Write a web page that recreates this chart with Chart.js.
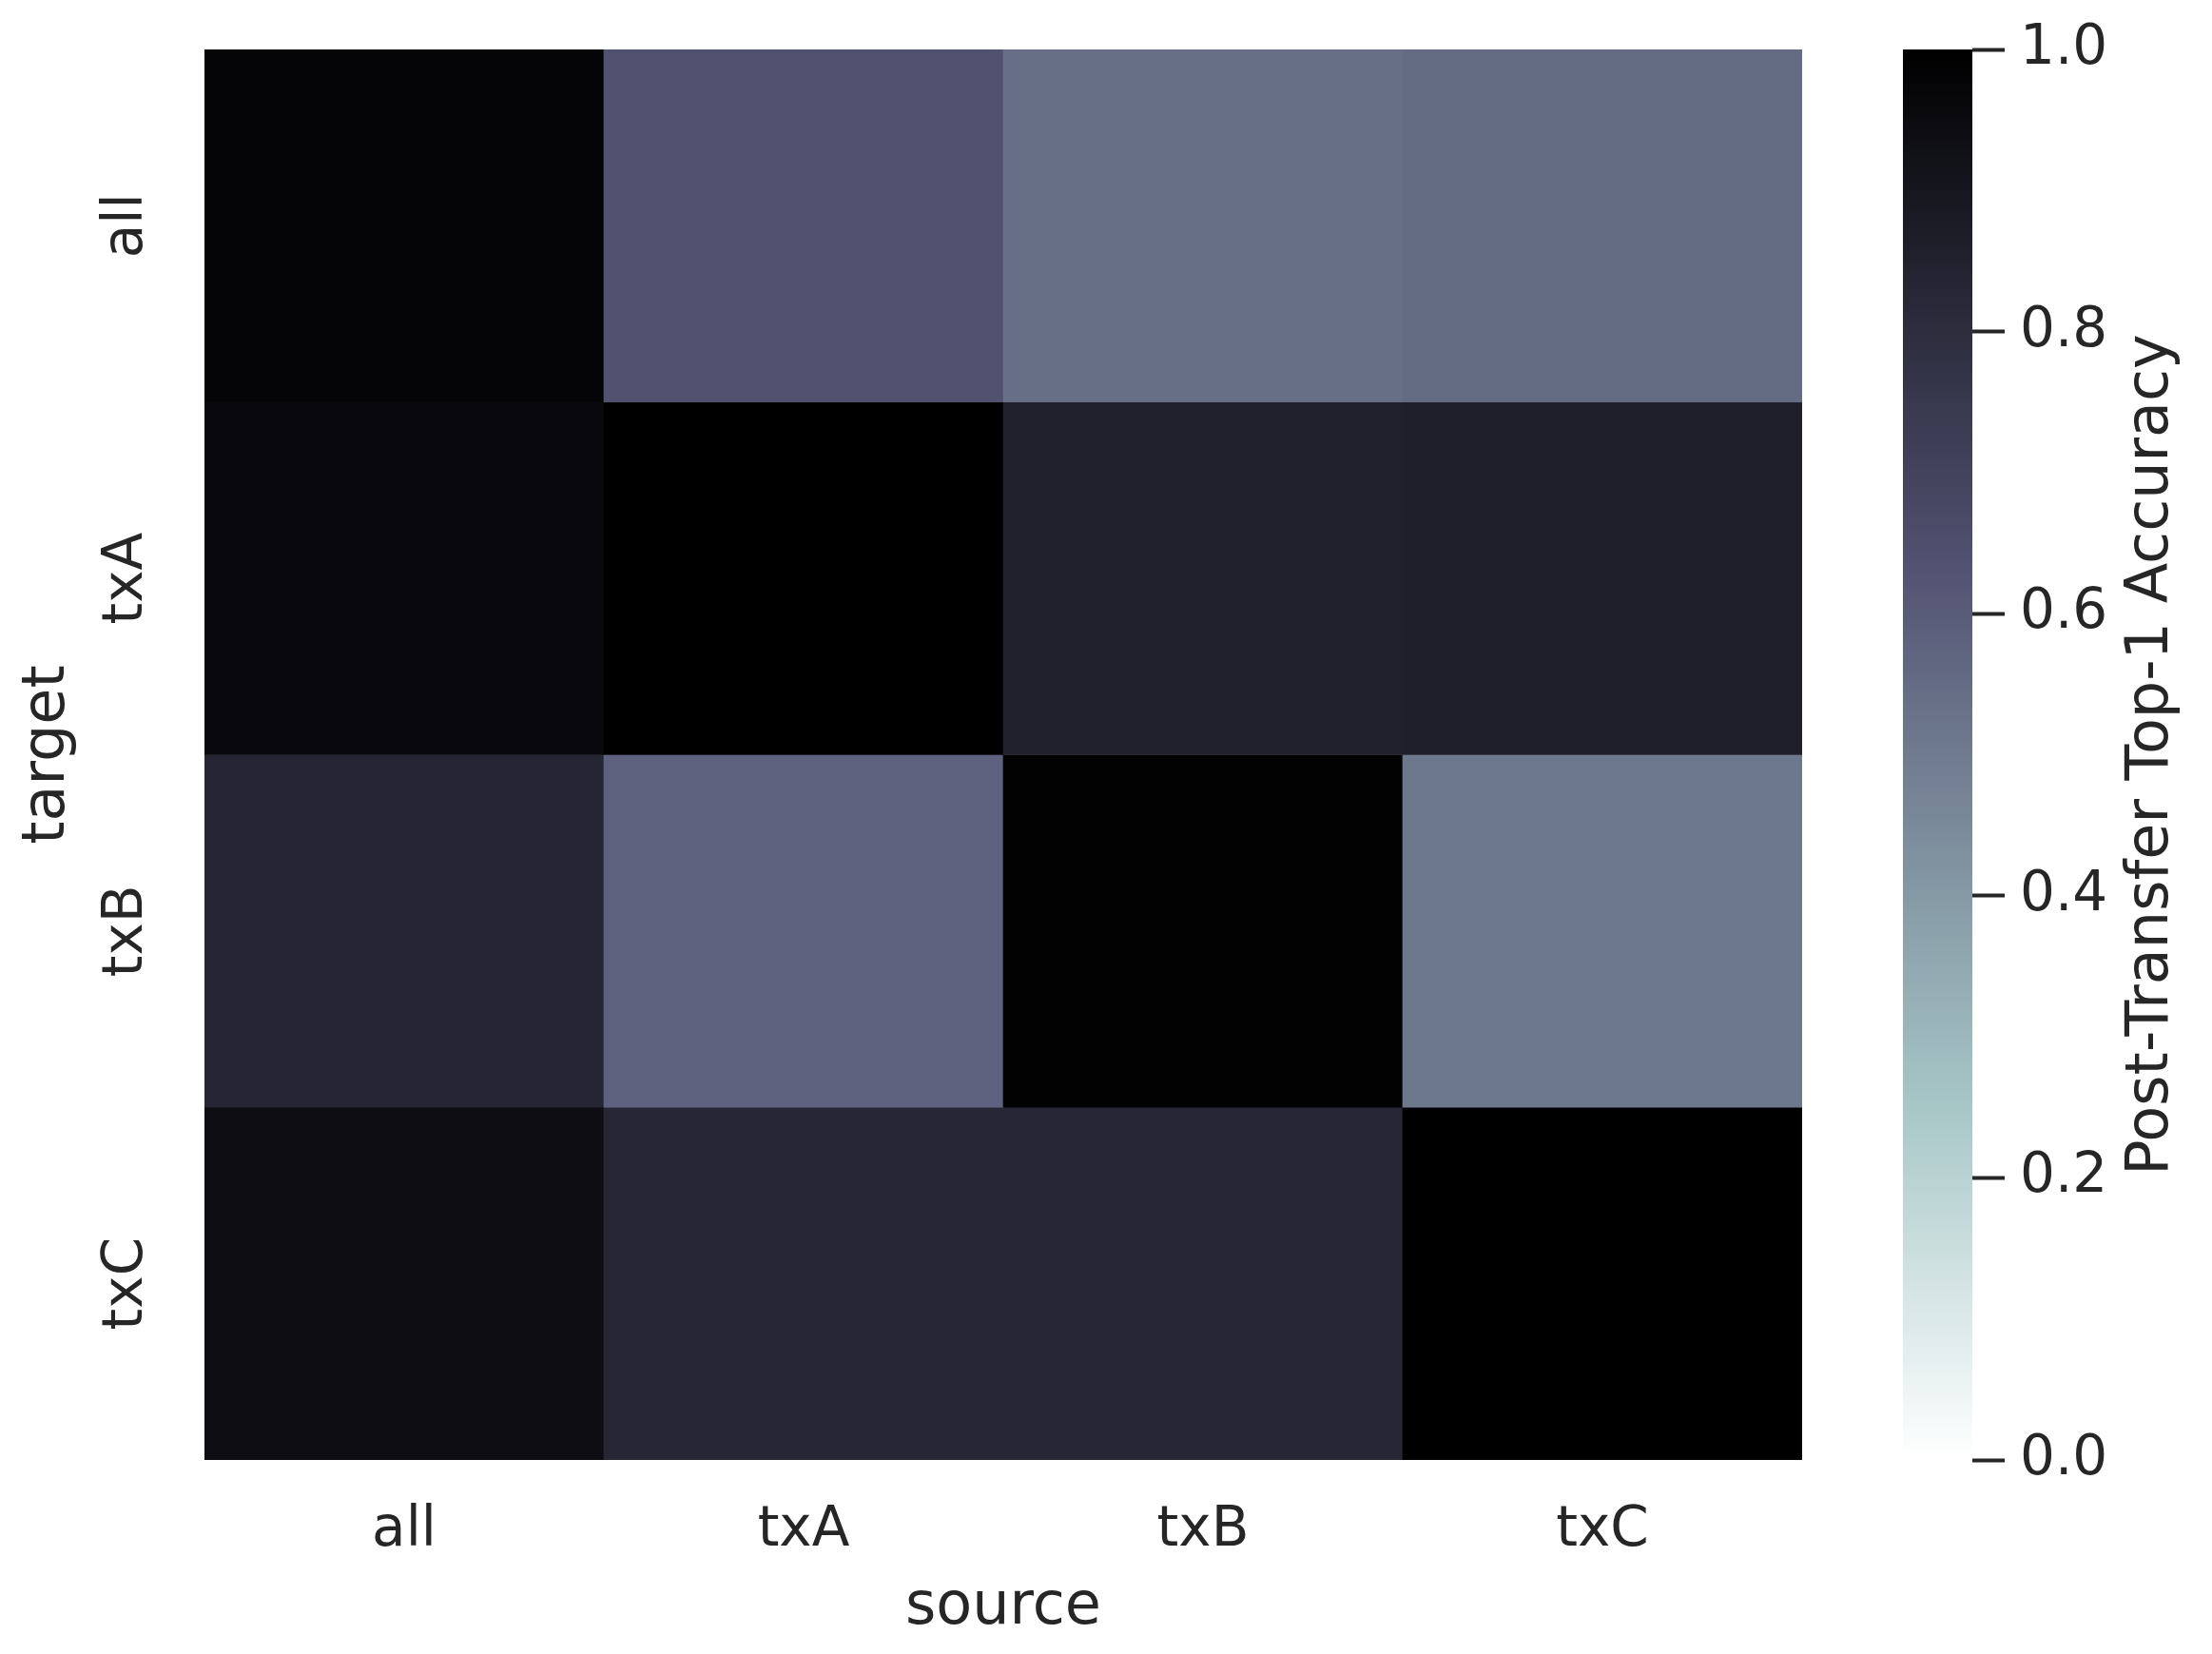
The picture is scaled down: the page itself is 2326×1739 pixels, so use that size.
<!DOCTYPE html>
<html lang="en">
<head>
  <meta charset="UTF-8" />
  <title>Post-Transfer Top-1 Accuracy</title>
  <script src="https://cdn.jsdelivr.net/npm/chart.js"></script>
  <style>
    body { margin: 0; background: #fff; }
    #wrap { position: relative; width: 2326px; height: 1739px; }
    canvas { position: absolute; top: 0; }
    #heat { left: 0; }
    #cbar { left: 1960px; }
  </style>
</head>
<body>
<div id="wrap">
  <canvas id="heat" width="1960" height="1739"></canvas>
  <canvas id="cbar" width="366" height="1739"></canvas>
</div>

<script>
  // categories
  const sources = ['all', 'txA', 'txB', 'txC'];
  const targets = ['all', 'txA', 'txB', 'txC'];

  // accuracy per target row (columns follow sources)
  const accAll = [0.978, 0.638, 0.540, 0.550];
  const accTxA = [0.958, 1.000, 0.858, 0.861];
  const accTxB = [0.836, 0.580, 0.990, 0.510];
  const accTxC = [0.940, 0.828, 0.828, 1.000];
  const rows = [accAll, accTxA, accTxB, accTxC];

  const cbarTicks = [0, 0.2, 0.4, 0.6, 0.8, 1.0];
  const xTitle = 'source';
  const yTitle = 'target';
  const cbarLabel = 'Post-Transfer Top-1 Accuracy';

  const FONT = '"DejaVu Sans", sans-serif';
  const TEXT = '#262626';

  // matplotlib "bone" colormap, reversed
  function interp(x, xs, ys) {
    for (let i = 1; i < xs.length; i++) {
      if (x <= xs[i]) {
        const f = (x - xs[i - 1]) / (xs[i] - xs[i - 1]);
        return ys[i - 1] + f * (ys[i] - ys[i - 1]);
      }
    }
    return ys[ys.length - 1];
  }
  function boneR(v) {
    const t = 1 - Math.max(0, Math.min(1, v));
    const r = interp(t, [0, 0.746032, 1], [0, 0.652778, 1]);
    const g = interp(t, [0, 0.365079, 0.746032, 1], [0, 0.319444, 0.777778, 1]);
    const b = interp(t, [0, 0.365079, 1], [0, 0.444444, 1]);
    return `rgb(${Math.round(r * 255)}, ${Math.round(g * 255)}, ${Math.round(b * 255)})`;
  }

  // heatmap: one floating bar dataset per target row
  const datasets = rows.map((vals, i) => ({
    label: targets[i],
    data: vals.map(() => [i, i + 1]),
    backgroundColor: vals.map(v => boneR(v)),
    borderWidth: 0,
    grouped: false,
    barPercentage: 1,
    categoryPercentage: 1
  }));

  new Chart(document.getElementById('heat').getContext('2d'), {
    type: 'bar',
    data: { labels: sources, datasets },
    options: {
      responsive: false,
      animation: false,
      devicePixelRatio: 1,
      layout: { padding: { left: 0, right: 65, top: 52, bottom: 0 } },
      plugins: { legend: { display: false }, tooltip: { enabled: false } },
      scales: {
        x: {
          grid: { display: false, drawTicks: false },
          border: { display: false },
          ticks: { color: TEXT, font: { family: FONT, size: 58 }, padding: 40, maxRotation: 0 },
          title: { display: true, text: xTitle, color: TEXT, font: { family: FONT, size: 62 }, padding: { top: 0, bottom: 11 } },
          afterFit: s => { s.height = 204; s.paddingLeft = 0; s.paddingRight = 0; }
        },
        y: {
          type: 'linear',
          min: 0,
          max: targets.length,
          reverse: true,
          grid: { display: false, drawTicks: false },
          border: { display: false },
          afterBuildTicks: s => { s.ticks = targets.map((t, i) => ({ value: i + 0.5 })); },
          ticks: {
            color: TEXT,
            font: { family: FONT, size: 58 },
            padding: 32,
            minRotation: 90,
            maxRotation: 90,
            crossAlign: 'center',
            callback: v => targets[Math.floor(v)]
          },
          title: { display: true, text: yTitle, color: TEXT, font: { family: FONT, size: 62 }, padding: { top: 14, bottom: 0 } },
          afterFit: s => { s.width = 215; s.paddingTop = 0; s.paddingBottom = 0; }
        }
      }
    }
  });

  // colorbar
  const cbarLabelPlugin = {
    id: 'cbarLabel',
    afterDraw(chart) {
      const { ctx, chartArea } = chart;
      ctx.save();
      ctx.translate(303, (chartArea.top + chartArea.bottom) / 2);
      ctx.rotate(-Math.PI / 2);
      ctx.textAlign = 'center';
      ctx.textBaseline = 'middle';
      ctx.font = '62px ' + FONT;
      ctx.fillStyle = TEXT;
      ctx.fillText(cbarLabel, 0, 0);
      ctx.restore();
    }
  };

  new Chart(document.getElementById('cbar').getContext('2d'), {
    type: 'bar',
    data: {
      labels: ['cbar'],
      datasets: [{
        data: [[0, 1]],
        borderWidth: 0,
        barPercentage: 1,
        categoryPercentage: 1,
        backgroundColor: (c) => {
          const area = c.chart.chartArea;
          if (!area) return '#000';
          const grad = c.chart.ctx.createLinearGradient(0, area.bottom, 0, area.top);
          for (let k = 0; k <= 50; k++) grad.addColorStop(k / 50, boneR(k / 50));
          return grad;
        }
      }]
    },
    options: {
      responsive: false,
      animation: false,
      devicePixelRatio: 1,
      layout: { padding: { left: 41, right: 0, top: 52, bottom: 204 } },
      plugins: { legend: { display: false }, tooltip: { enabled: false } },
      scales: {
        x: { display: false },
        y: {
          position: 'right',
          min: 0,
          max: 1,
          afterBuildTicks: s => { s.ticks = cbarTicks.map(v => ({ value: v })); },
          grid: { drawOnChartArea: false, drawTicks: true, tickLength: 34, tickWidth: 4, tickColor: TEXT },
          border: { display: false },
          ticks: { color: TEXT, font: { family: FONT, size: 58 }, padding: 16, callback: v => v.toFixed(1) },
          afterFit: s => { s.width = 252; s.paddingTop = 0; s.paddingBottom = 0; }
        }
      }
    },
    plugins: [cbarLabelPlugin]
  });
</script>
</body>
</html>
